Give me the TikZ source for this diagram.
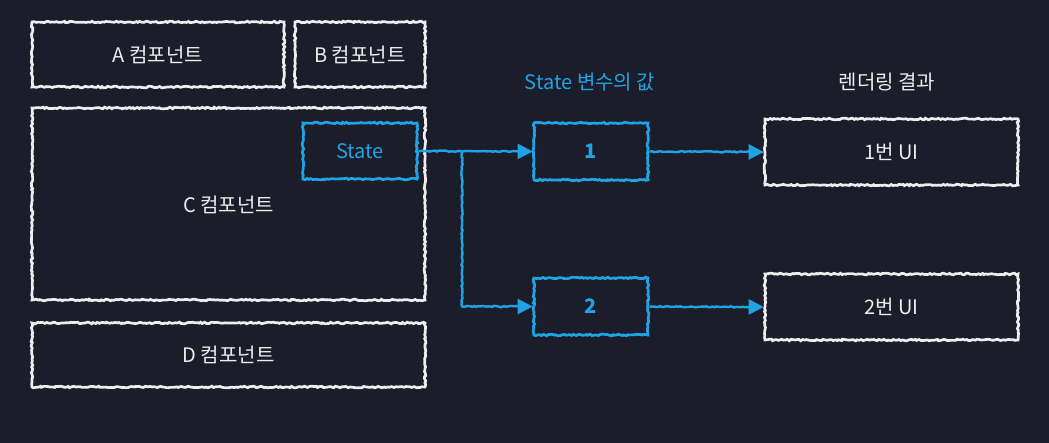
\documentclass[tikz,border=0pt]{standalone}
\usepackage{fontspec}
\setmainfont{Noto Sans CJK KR}
\usetikzlibrary{decorations.pathmorphing,arrows.meta}
\definecolor{bg}{HTML}{1C1D2B}
\definecolor{sb}{HTML}{1FA3E3}
\definecolor{wt}{HTML}{EDEDED}
\begin{document}
\begin{tikzpicture}[x=1pt,y=-1pt,
  rough/.style={decorate,decoration={random steps,segment length=2pt,amplitude=0.8pt}},
  wbox/.style={draw=wt,line width=2.7pt,rough,text=wt,inner sep=0pt,
    font=\fontsize{20}{24}\selectfont},
  bbox/.style={draw=sb,line width=2.7pt,rough,text=sb,inner sep=0pt,
    font=\fontsize{20}{24}\selectfont},
  conn/.style={draw=sb,line width=2.4pt,
    decorate,decoration={random steps,segment length=2pt,amplitude=0.6pt,pre length=1pt,post length=6pt},
    -{Triangle[length=15pt,width=15pt]}},
  lbl/.style={font=\fontsize{20}{24}\selectfont,inner sep=0pt}]
\pgfmathsetseed{7}
\fill[bg] (0,0) rectangle (1049,443);
\useasboundingbox (0,0) rectangle (1049,443);

\node[wbox,minimum width=252pt,minimum height=65pt] (a) at (158,54.5) {A 컴포넌트};
\node[wbox,minimum width=130pt,minimum height=65pt] (b) at (360,54.5) {B 컴포넌트};
\node[wbox,minimum width=393pt,minimum height=192pt,text depth=-6pt] (c) at (228.5,204) {C 컴포넌트};
\node[bbox,minimum width=114pt,minimum height=56pt] (st) at (360,151) {State};
\node[wbox,minimum width=393pt,minimum height=64pt] (d) at (228.5,355) {D 컴포넌트};

\node[bbox,minimum width=114pt,minimum height=57pt,font=\fontsize{20}{24}\selectfont\bfseries] (v1) at (591,151.5) {1};
\node[bbox,minimum width=114pt,minimum height=57pt,font=\fontsize{20}{24}\selectfont\bfseries] (v2) at (591,306.5) {2};
\node[wbox,minimum width=253pt,minimum height=66pt] (u1) at (891.5,152) {1번 UI};
\node[wbox,minimum width=253pt,minimum height=66pt] (u2) at (891.5,307) {2번 UI};

\node[lbl,text=sb] (h1) at (590,82) {State 변수의 값};
\node[lbl,text=wt] (h2) at (887,82) {렌더링 결과};

\coordinate (j) at (462,151.5);
\draw[conn] (st.east) -- (v1.west);
\draw[conn] (j) |- (v2.west);
\draw[conn] (v1.east) -- (u1.west);
\draw[conn] (v2.east) -- (u2.west);
\end{tikzpicture}
\end{document}
